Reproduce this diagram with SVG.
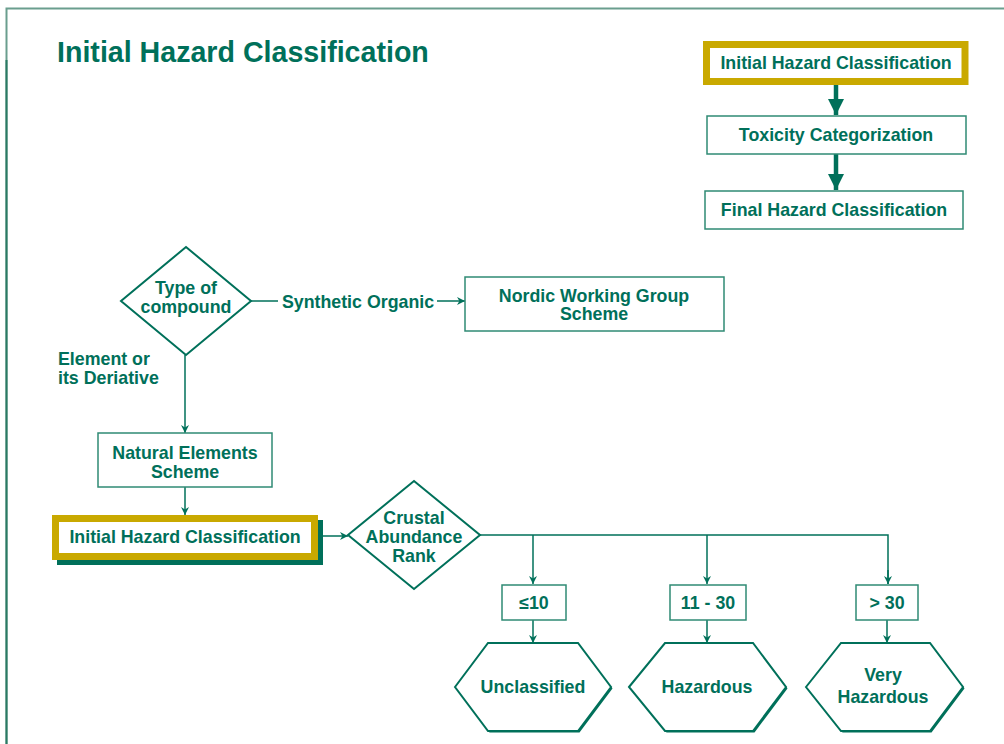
<svg xmlns="http://www.w3.org/2000/svg" width="1004" height="744" viewBox="0 0 1004 744">
<defs>
<style>
text{font-family:"Liberation Sans",Arial,sans-serif;font-weight:bold;fill:#00705a;font-size:17.8px}
.c{text-anchor:middle}
.box{fill:#fff;stroke:#2f8a74;stroke-width:1.5}
.gold{fill:#fff;stroke:#c9a900;stroke-width:7}
.ln{fill:none;stroke:#00705a;stroke-width:1.5}
.thick{fill:none;stroke:#00705a;stroke-width:4.5}
.hex{fill:#fff;stroke:#00705a;stroke-width:2}
</style>
<marker id="ah" viewBox="0 0 10 10" refX="10" refY="5" markerWidth="8" markerHeight="8" markerUnits="userSpaceOnUse" orient="auto"><path d="M0,0 L10,5 L0,10 L3,5 Z" fill="#00705a"/></marker>
<marker id="ahb" viewBox="0 0 10 10" refX="10" refY="5" markerWidth="16" markerHeight="16" markerUnits="userSpaceOnUse" orient="auto"><path d="M0,0 L10,5 L0,10 Z" fill="#00705a"/></marker>
</defs>
<rect x="0" y="0" width="1004" height="744" fill="#fff"/>
<path d="M6.5,744 V8.5 H1004" fill="none" stroke="#6a9e8e" stroke-width="2"/>
<path d="M6.5,744 V60" fill="none" stroke="#2a7a64" stroke-width="2"/>
<text x="57" y="62" style="font-size:28.6px">Initial Hazard Classification</text>

<g id="connectors">
<line class="thick" x1="836" y1="85" x2="836" y2="115" marker-end="url(#ahb)"/>
<line class="thick" x1="836" y1="154" x2="836" y2="190" marker-end="url(#ahb)"/>
<line class="ln" x1="251" y1="301" x2="278" y2="301"/>
<line class="ln" x1="437" y1="301" x2="465" y2="301" marker-end="url(#ah)"/>
<line class="ln" x1="185" y1="355" x2="185" y2="433" marker-end="url(#ah)"/>
<line class="ln" x1="185" y1="487" x2="185" y2="515" marker-end="url(#ah)"/>
<line class="ln" x1="318" y1="536" x2="348" y2="536" marker-end="url(#ah)"/>
<path class="ln" d="M480,535 H888 V584"/>
<line class="ln" x1="533" y1="535" x2="533" y2="584" marker-end="url(#ah)"/>
<line class="ln" x1="707" y1="535" x2="707" y2="584" marker-end="url(#ah)"/>
<line class="ln" x1="888" y1="570" x2="888" y2="584" marker-end="url(#ah)"/>
<line class="ln" x1="533" y1="620" x2="533" y2="643" marker-end="url(#ah)"/>
<line class="ln" x1="707" y1="620" x2="707" y2="643" marker-end="url(#ah)"/>
<line class="ln" x1="887" y1="620" x2="887" y2="643" marker-end="url(#ah)"/>
<text x="358" y="308" class="c">Synthetic Organic</text>
<text x="58" y="365">Element or</text>
<text x="58" y="384">its Deriative</text>
</g>

<g id="legend-initial">
<rect class="gold" x="706.5" y="44.5" width="258.5" height="37"/>
<text x="836" y="69" class="c">Initial Hazard Classification</text>
</g>
<g id="legend-toxicity">
<rect class="box" x="707" y="116" width="259" height="38"/>
<text x="836" y="141" class="c">Toxicity Categorization</text>
</g>
<g id="legend-final">
<rect class="box" x="705" y="191" width="258" height="38"/>
<text x="834" y="216" class="c">Final Hazard Classification</text>
</g>

<g id="type-of-compound">
<polygon class="ln" points="186,247 251,301 186,355 121,301" style="fill:#fff;stroke-width:2"/>
<text x="186" y="294" class="c">Type of</text>
<text x="186" y="313" class="c">compound</text>
</g>

<g id="nordic">
<rect class="box" x="465" y="277" width="259" height="54"/>
<text x="594" y="302" class="c">Nordic Working Group</text>
<text x="594" y="320" class="c">Scheme</text>
</g>

<g id="natural-elements">
<rect class="box" x="98" y="433" width="174" height="54"/>
<text x="185" y="459" class="c">Natural Elements</text>
<text x="185" y="478" class="c">Scheme</text>
</g>

<g id="initial-hazard">
<rect x="57" y="520" width="266" height="45" fill="#00705a"/>
<rect class="gold" x="55.5" y="518.5" width="259" height="38"/>
<text x="185" y="543" class="c">Initial Hazard Classification</text>
</g>

<g id="crustal">
<polygon points="414,481 480,535 414,589 348,535" style="fill:#fff;stroke:#00705a;stroke-width:2"/>
<text x="414" y="524" class="c">Crustal</text>
<text x="414" y="543" class="c">Abundance</text>
<text x="414" y="562" class="c">Rank</text>
</g>

<g id="le10">
<rect class="box" x="502" y="585" width="64" height="35"/>
<text x="534" y="609" class="c">≤10</text>
</g>
<g id="r11-30">
<rect class="box" x="670" y="585" width="76" height="35"/>
<text x="708" y="609" class="c">11 - 30</text>
</g>
<g id="gt30">
<rect class="box" x="856" y="585" width="62" height="35"/>
<text x="887" y="609" class="c">&gt; 30</text>
</g>

<g id="unclassified">
<polygon points="456.5,688.5 489.5,644.5 579.5,644.5 612.5,688.5 579.5,732.5 489.5,732.5" fill="#00705a"/>
<polygon class="hex" points="455,687 488,643 578,643 611,687 578,731 488,731"/>
<text x="533" y="693" class="c">Unclassified</text>
</g>
<g id="hazardous">
<polygon points="630.5,688.5 666.5,644.5 754.5,644.5 787.5,688.5 754.5,732.5 666.5,732.5" fill="#00705a"/>
<polygon class="hex" points="629,687 665,643 753,643 786,687 753,731 665,731"/>
<text x="707" y="693" class="c">Hazardous</text>
</g>
<g id="very-hazardous">
<polygon points="807.5,688.5 842.5,644.5 931.5,644.5 964.5,688.5 931.5,732.5 842.5,732.5" fill="#00705a"/>
<polygon class="hex" points="806,687 841,643 930,643 963,687 930,731 841,731"/>
<text x="883" y="681" class="c">Very</text>
<text x="883" y="703" class="c">Hazardous</text>
</g>
</svg>
